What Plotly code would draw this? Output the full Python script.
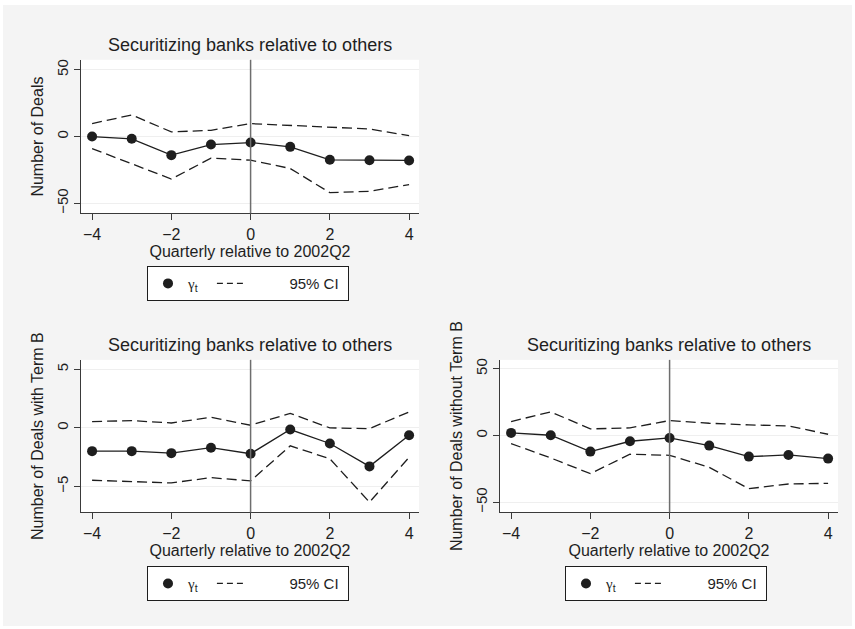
import plotly.graph_objects as go

quarters = [-4, -3, -2, -1, 0, 1, 2, 3, 4]

# Panel 1: Number of Deals
deals_gamma = [0.0, -1.7, -13.9, -6.0, -4.5, -7.7, -17.4, -17.7, -17.9]
deals_upper = [9.7, 16.2, 3.5, 4.7, 9.7, 8.5, 7.2, 5.7, 0.7]
deals_lower = [-9.0, -20.2, -31.8, -16.2, -17.7, -23.9, -42.0, -41.0, -36.0]

# Panel 2: Number of Deals with Term B
termb_gamma = [-1.98, -1.98, -2.15, -1.69, -2.2, -0.14, -1.33, -3.28, -0.62]
termb_upper = [0.54, 0.62, 0.42, 0.9, 0.23, 1.24, 0.0, -0.06, 1.36]
termb_lower = [-4.46, -4.58, -4.69, -4.24, -4.52, -1.53, -2.63, -6.33, -2.51]

# Panel 3: Number of Deals without Term B
notb_gamma = [2.0, 0.25, -12.0, -4.25, -1.75, -7.5, -15.75, -14.5, -17.25]
notb_upper = [10.5, 17.75, 5.0, 5.75, 11.25, 9.25, 8.0, 7.25, 1.0]
notb_lower = [-6.0, -16.75, -28.5, -14.0, -14.75, -23.75, -39.75, -36.25, -35.75]

x_ticks = [-4, -2, 0, 2, 4]
event_quarter = 0
panel_title = "Securitizing banks relative to others"
x_title = "Quarterly relative to 2002Q2"
y_titles = ["Number of Deals", "Number of Deals with Term B", "Number of Deals without Term B"]
NB = "\u00a0"
gamma_label = '<span style="font-family:Liberation Serif">γ</span><sub>t</sub>' + NB * 2
ci_label = NB * 9 + "95% CI" + NB

W, H = 855, 629
FONT = "Liberation Sans, Arial, sans-serif"
DARK = "#1e1e1e"
AXIS = "#3a3a3a"
BG = "#F4F4F4"

panels = [
    dict(g=deals_gamma, u=deals_upper, l=deals_lower, ax="", px=(81, 419), py=(58, 212),
         yr=[-57.5, 57.5], yt=[-50, 0, 50], leg="legend", legpos=(147, 265)),
    dict(g=termb_gamma, u=termb_upper, l=termb_lower, ax="2", px=(81, 419), py=(359, 512),
         yr=[-7.2, 5.8], yt=[-5, 0, 5], leg="legend2", legpos=(147, 566)),
    dict(g=notb_gamma, u=notb_upper, l=notb_lower, ax="3", px=(500, 838), py=(359, 512),
         yr=[-57.5, 56.7], yt=[-50, 0, 50], leg="legend3", legpos=(565, 566)),
]

fig = go.Figure()
layout = dict(
    width=W, height=H, margin=dict(l=0, r=0, t=0, b=0),
    paper_bgcolor=BG, plot_bgcolor="white",
    font=dict(family=FONT, size=15, color=DARK),
    showlegend=True,
)
annotations = []
shapes = []

for i, p in enumerate(panels):
    xa = "x" + p["ax"]
    ya = "y" + p["ax"]
    dash = "10px,5px"
    # CI lines
    fig.add_trace(go.Scatter(x=quarters, y=p["u"], mode="lines", xaxis=xa, yaxis=ya,
                             line=dict(color=DARK, width=1.3, dash=dash),
                             showlegend=False, hoverinfo="skip"))
    fig.add_trace(go.Scatter(x=quarters, y=p["l"], mode="lines", xaxis=xa, yaxis=ya,
                             line=dict(color=DARK, width=1.3, dash=dash),
                             showlegend=False, hoverinfo="skip"))
    # gamma
    fig.add_trace(go.Scatter(x=quarters, y=p["g"], mode="lines+markers", xaxis=xa, yaxis=ya,
                             line=dict(color=DARK, width=1.3),
                             marker=dict(color=DARK, size=10),
                             showlegend=False))
    # legend entries
    fig.add_trace(go.Scatter(x=[None], y=[None], mode="markers", xaxis=xa, yaxis=ya,
                             marker=dict(color=DARK, size=10), name=gamma_label,
                             legend=p["leg"], showlegend=True))
    fig.add_trace(go.Scatter(x=[None], y=[None], mode="lines", xaxis=xa, yaxis=ya,
                             line=dict(color=DARK, width=1.3, dash="6px,4px"), name=ci_label,
                             legend=p["leg"], showlegend=True))

    x0, x1 = p["px"]
    ytop, ybot = p["py"]
    layout["xaxis" + p["ax"]] = dict(
        domain=[x0 / W, x1 / W], anchor=ya, range=[-4.28, 4.25],
        tickvals=x_ticks, ticks="outside", ticklen=6, tickcolor=AXIS, tickwidth=1,
        showline=True, linecolor=AXIS, linewidth=1, mirror=False,
        showgrid=False, zeroline=False,
        tickfont=dict(size=16, color=DARK),
        title=dict(text=x_title, font=dict(size=16, color=DARK), standoff=3),
    )
    layout["yaxis" + p["ax"]] = dict(
        domain=[1 - ybot / H, 1 - ytop / H], anchor=xa, range=p["yr"],
        tickvals=p["yt"], ticks="outside", ticklen=6, tickcolor=AXIS, tickwidth=1,
        tickangle=-90,
        showline=True, linecolor=AXIS, linewidth=1, mirror=False,
        showgrid=True, gridcolor="#EFEFEF", gridwidth=1, zeroline=False,
        tickfont=dict(size=15, color=DARK),
        title=dict(text=y_titles[i], font=dict(size=16, color=DARK), standoff=6),
    )
    lx, ly = p["legpos"]
    layout[p["leg"]] = dict(
        x=lx / W, y=1 - ly / H, xanchor="left", yanchor="top",
        orientation="h", bgcolor="white", bordercolor=DARK, borderwidth=1,
        font=dict(size=15, color=DARK), itemwidth=30,
    )
    annotations.append(dict(
        text=panel_title, xref="paper", yref="paper",
        x=(x0 + x1) / 2 / W, y=1 - (ytop - 15) / H, xanchor="center", yanchor="middle",
        showarrow=False, font=dict(size=18, color=DARK),
    ))
    shapes.append(dict(type="line", xref=xa, yref=ya + " domain",
                       x0=event_quarter, x1=event_quarter, y0=0, y1=1,
                       line=dict(color="#6e6e6e", width=1.5), layer="above"))

shapes.append(dict(type="rect", xref="paper", yref="paper", x0=0, x1=1, y0=0, y1=1,
                   line=dict(color="white", width=6), fillcolor="rgba(0,0,0,0)", layer="above"))
layout["annotations"] = annotations
layout["shapes"] = shapes
fig.update_layout(**layout)
fig.write_html("out.html", config={"displayModeBar": False},
               post_script="document.body.style.margin='0';document.body.style.padding='0';")
